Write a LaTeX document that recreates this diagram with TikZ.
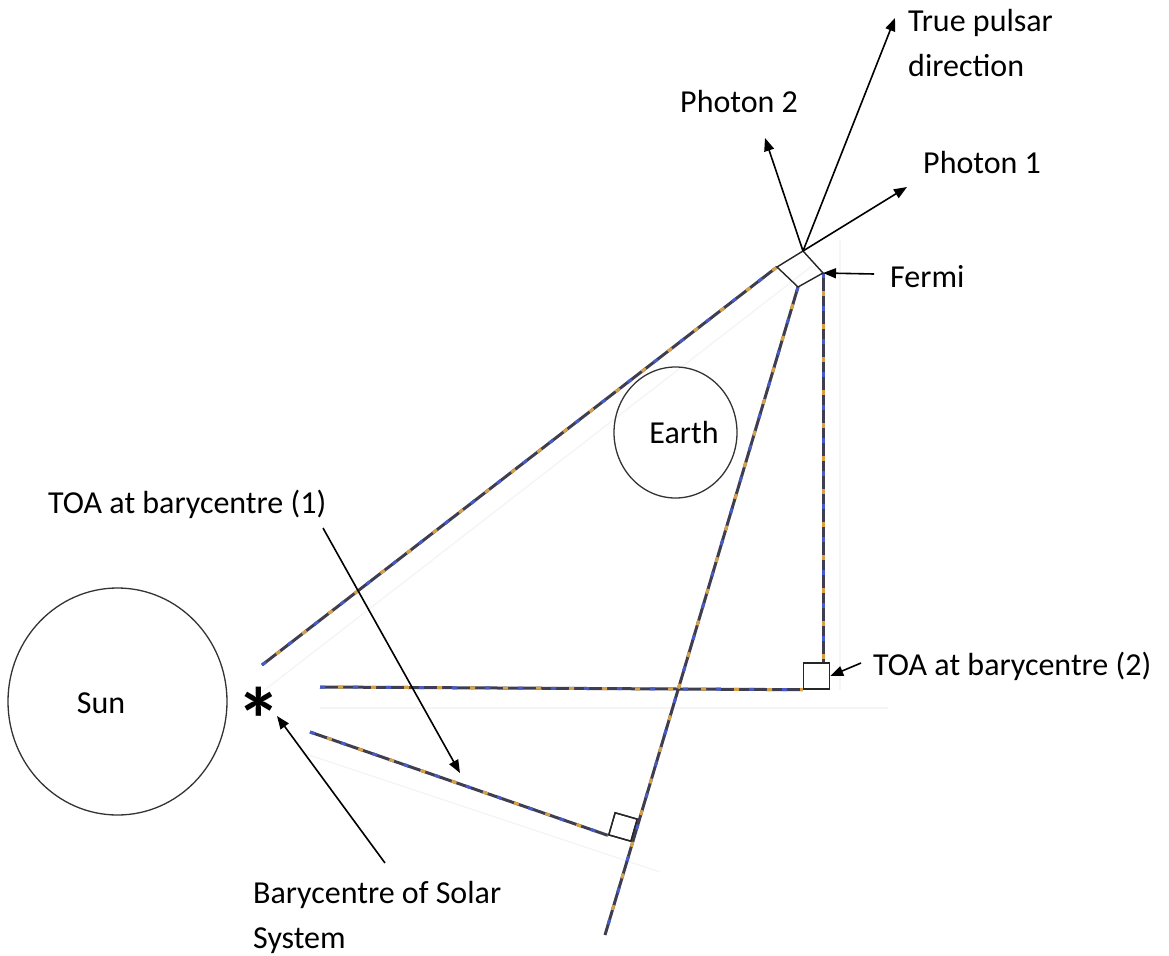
\documentclass[tikz,border=0pt]{standalone}
\usepackage{fontspec}
\setmainfont{Carlito}
\usetikzlibrary{arrows.meta,shapes.geometric,calc}
\definecolor{dbase}{RGB}{62,62,80}
\definecolor{dblue}{RGB}{70,90,200}
\definecolor{dorng}{RGB}{215,160,70}
\definecolor{ghost}{RGB}{245,245,245}
\tikzset{
  dline/.style={line width=3pt, draw=dbase,
    postaction={draw=dblue, line width=3pt, dash pattern=on 5pt off 28pt},
    postaction={draw=dorng, line width=3pt, dash pattern=on 5pt off 28pt, dash phase=15pt}},
  ghostline/.style={draw=ghost, line width=1.5pt},
  arr/.style={draw=black, line width=1.6pt, -{Triangle[length=13pt,width=10pt]}},
  lbl/.style={font=\fontsize{32}{45}\selectfont, inner sep=0pt, align=left},
  body/.style={draw=black!80, line width=1.3pt, ellipse, inner sep=0pt},
  boxmark/.style={draw=black!85, line width=1.4pt, rectangle, inner sep=0pt, minimum size=25pt}
}
\begin{document}
\begin{tikzpicture}[x=1pt,y=-1pt]
\useasboundingbox (0,0) rectangle (1169,955);
% faint ghost lines
\draw[ghostline] (262,692) -- (812,266);
\draw[ghostline] (320,708) -- (888,708);
\draw[ghostline] (840,240) -- (840,690);
\draw[ghostline] (300,752) -- (660,872);
% bodies
\node[body, minimum width=219pt, minimum height=227pt] (sun) at (117.5,701.5) {};
\node[lbl, anchor=base] (sunlbl) at (101,713) {Sun};
\node[body, minimum width=123pt, minimum height=131pt] (earth) at (675.5,432.5) {};
\node[lbl, anchor=base] (earthlbl) at (684,443) {Earth};
% barycentre
\node[font=\fontsize{90}{90}\selectfont\bfseries, inner sep=0pt, anchor=base] (bary) at (259,751) {*};
\coordinate (btip) at (277,716);
% Fermi diamond
\coordinate (fT) at (803,251);
\coordinate (fR) at (823,273);
\coordinate (fB) at (798,287);
\coordinate (fL) at (777,267);
% TOA squares
\node[boxmark, minimum size=26pt] (toa2) at (816.5,676) {};
\node[boxmark, minimum size=23pt, rotate=-16] (toa1) at (623,827) {};
% free ends of the light paths
\coordinate (s1) at (262,665);
\coordinate (s2) at (320,687);
\coordinate (s3) at (310,732);
\coordinate (s5) at (605,935);
% dashed light paths
\draw[dline] (s1) -- (fL);
\draw[dline] (s2) -- (toa2.south west);
\draw[dline] (fR) -- (fR |- toa2.north);
\draw[dline] (s3) -- (toa1.south west);
\draw[dline] (fB) -- (s5);
\draw[draw=black!85, line width=1.4pt] (fT) -- (fR) -- (fB) -- (fL) -- cycle;
\node[boxmark, minimum size=23pt, rotate=-16] at (toa1) {};
% direction arrows
\coordinate (tp) at (895,18);
\coordinate (p2) at (765,138);
\coordinate (p1) at (907,187);
\draw[arr] (fT) -- (tp);
\draw[arr] (fT) -- (p2);
\draw[arr] (fT) -- (p1);
% labels
\node[lbl, anchor=base west] (tplbl) at (908,77) {True pulsar\\direction};
\node[lbl, anchor=base west] (p2lbl) at (680,113) {Photon 2};
\node[lbl, anchor=base west] (p1lbl) at (923,173) {Photon 1};
\node[lbl, anchor=base west] (fermilbl) at (890,287) {Fermi};
\node[lbl, anchor=base west] (toa1lbl) at (48,513) {TOA at barycentre (1)};
\node[lbl, anchor=base west] (toa2lbl) at (873,675) {TOA at barycentre (2)};
\node[lbl, anchor=base west] (barylbl) at (253,948) {Barycentre of Solar\\System};
% pointer arrows
\coordinate (fa) at (874,274);
\draw[arr] (fa) -- (fR);
\coordinate (ta2) at (861,663);
\draw[arr] (ta2) -- (toa2.east);
\coordinate (ta1) at (323,528);
\coordinate (ta1e) at (460,773);
\draw[arr] (ta1) -- (ta1e);
\coordinate (ba) at (385,863);
\draw[arr] (ba) -- (btip);
\end{tikzpicture}
\end{document}
